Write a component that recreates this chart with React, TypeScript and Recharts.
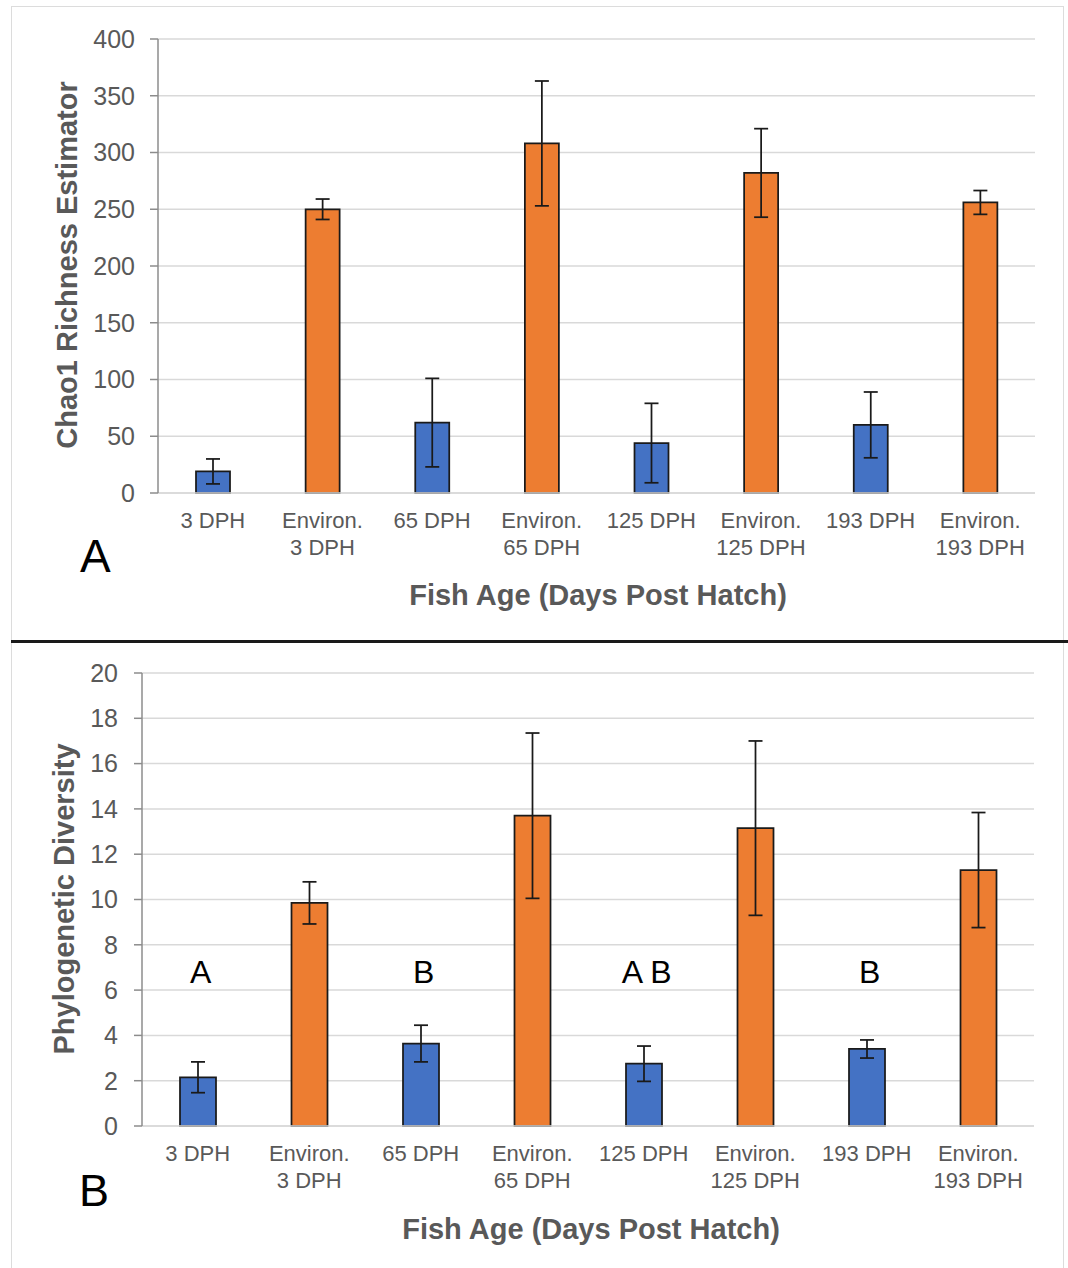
import React from 'react';
import { BarChart, Bar, XAxis, YAxis, CartesianGrid, ErrorBar, Cell, ReferenceDot } from 'recharts';

const categories = [
  '3 DPH', 'Environ.\n3 DPH', '65 DPH', 'Environ.\n65 DPH',
  '125 DPH', 'Environ.\n125 DPH', '193 DPH', 'Environ.\n193 DPH',
];

// panel A: Chao1 richness (mean, error)
const chaoMean = [19, 250, 62, 308, 44, 282, 60, 256];
const chaoErr = [11, 9, 39, 55, 35, 39, 29, 10.5];
const chaoTicks = [0, 50, 100, 150, 200, 250, 300, 350, 400];

// panel B: phylogenetic diversity (mean, error)
const pdMean = [2.15, 9.85, 3.64, 13.7, 2.75, 13.15, 3.4, 11.3];
const pdErr = [0.68, 0.93, 0.81, 3.65, 0.78, 3.85, 0.4, 2.54];
const pdTicks = [0, 2, 4, 6, 8, 10, 12, 14, 16, 18, 20];

// significance letters over the fish bars in panel B
const sigLetters = ['A', '', 'B', '', 'A B', '', 'B', ''];
const sigLetterY = 6.8;

const FONT = '"Liberation Sans", Arial, sans-serif';
const BLUE = '#4472C4';
const ORANGE = '#ED7D31';
const TEXT = '#595959';

const CategoryTick = (props: any) => {
  const { x, y, payload } = props;
  const lines = String(payload.value).split('\n');
  return (
    <text x={x} y={y} textAnchor="middle" fill={TEXT} fontSize={22} fontFamily={FONT}>
      {lines.map((l, i) => (
        <tspan key={i} x={x} dy={i === 0 ? 35 : 27}>{l}</tspan>
      ))}
    </text>
  );
};

type PanelProps = {
  mean: number[];
  err: number[];
  ticks: number[];
  width: number;
  height: number;
  margin: { top: number; right: number; left: number; bottom: number };
  yWidth: number;
  xHeight: number;
  barSize: number;
  tickMargin: number;
  letters?: string[];
};

const Panel = ({ mean, err, ticks, width, height, margin, yWidth, xHeight, barSize, tickMargin, letters }: PanelProps) => {
  const rows = categories.map((name, i) => ({ name, value: mean[i], err: err[i] }));
  return (
    <BarChart width={width} height={height} data={rows} margin={margin}>
      <CartesianGrid vertical={false} stroke="#d9d9d9" strokeWidth={1.5} />
      <XAxis
        dataKey="name"
        interval={0}
        tickLine={false}
        tickSize={0}
        tickMargin={0}
        height={xHeight}
        axisLine={{ stroke: '#d9d9d9', strokeWidth: 1.5 }}
        tick={<CategoryTick />}
      />
      <YAxis
        type="number"
        domain={[ticks[0], ticks[ticks.length - 1]]}
        ticks={ticks}
        interval={0}
        width={yWidth}
        tickSize={8}
        tickMargin={tickMargin}
        axisLine={{ stroke: '#8c8c8c', strokeWidth: 1.5 }}
        tickLine={{ stroke: '#8c8c8c', strokeWidth: 1.5 }}
        tick={{ fontSize: 25, fill: TEXT, fontFamily: FONT }}
      />
      <Bar dataKey="value" barSize={barSize} stroke="#1a1a1a" strokeWidth={1.75} isAnimationActive={false}>
        {rows.map((r, i) => (
          <Cell key={i} fill={r.name.startsWith('Environ') ? ORANGE : BLUE} />
        ))}
        <ErrorBar dataKey="err" width={7} stroke="#1a1a1a" strokeWidth={1.75} direction="y" isAnimationActive={false} />
      </Bar>
      {letters &&
        letters.map((s, i) =>
          s ? (
            <ReferenceDot
              key={i}
              x={categories[i]}
              y={sigLetterY}
              r={0}
              fill="none"
              stroke="none"
              ifOverflow="visible"
              label={{ value: s, position: 'center', fontSize: 32, fill: '#000', fontFamily: FONT, dx: 3 }}
            />
          ) : null
        )}
    </BarChart>
  );
};

export default function App() {
  return (
    <div style={{ position: 'absolute', left: 0, top: 0, width: 1068, height: 1268, background: '#fff', overflow: 'hidden' }}>
      {/* frame */}
      <div style={{ position: 'absolute', left: 11, top: 6, width: 1053, height: 1270, border: '1.5px solid #dcdcdc', boxSizing: 'border-box' }} />
      <div style={{ position: 'absolute', left: 11, top: 640, width: 1057, height: 3, background: '#1a1a1a' }} />

      <div style={{ position: 'absolute', left: 0, top: 0 }}>
        <Panel
          mean={chaoMean}
          err={chaoErr}
          ticks={chaoTicks}
          width={1068}
          height={640}
          margin={{ top: 39, right: 33, left: 0, bottom: 0 }}
          yWidth={158}
          xHeight={147}
          barSize={34}
          tickMargin={15}
        />
      </div>
      <div style={{ position: 'absolute', left: 0, top: 644 }}>
        <Panel
          mean={pdMean}
          err={pdErr}
          ticks={pdTicks}
          width={1068}
          height={624}
          margin={{ top: 29, right: 34, left: 0, bottom: 0 }}
          yWidth={142}
          xHeight={142}
          barSize={36}
          tickMargin={16}
          letters={sigLetters}
        />
      </div>

      <svg width={1068} height={1268} style={{ position: 'absolute', left: 0, top: 0, pointerEvents: 'none' }}>
        <g fontFamily={FONT}>
          <text x={598} y={605} textAnchor="middle" fontSize={29} fontWeight="bold" fill={TEXT}>Fish Age (Days Post Hatch)</text>
          <text x={591} y={1239} textAnchor="middle" fontSize={29} fontWeight="bold" fill={TEXT}>Fish Age (Days Post Hatch)</text>
          <text transform="translate(77,265) rotate(-90)" textAnchor="middle" fontSize={29} fontWeight="bold" fill={TEXT}>Chao1 Richness Estimator</text>
          <text transform="translate(74,899) rotate(-90)" textAnchor="middle" fontSize={29} fontWeight="bold" fill={TEXT}>Phylogenetic Diversity</text>
          <text x={80} y={572} fontSize={46} fill="#000">A</text>
          <text x={79} y={1206} fontSize={45} fill="#000">B</text>
        </g>
      </svg>
    </div>
  );
}
